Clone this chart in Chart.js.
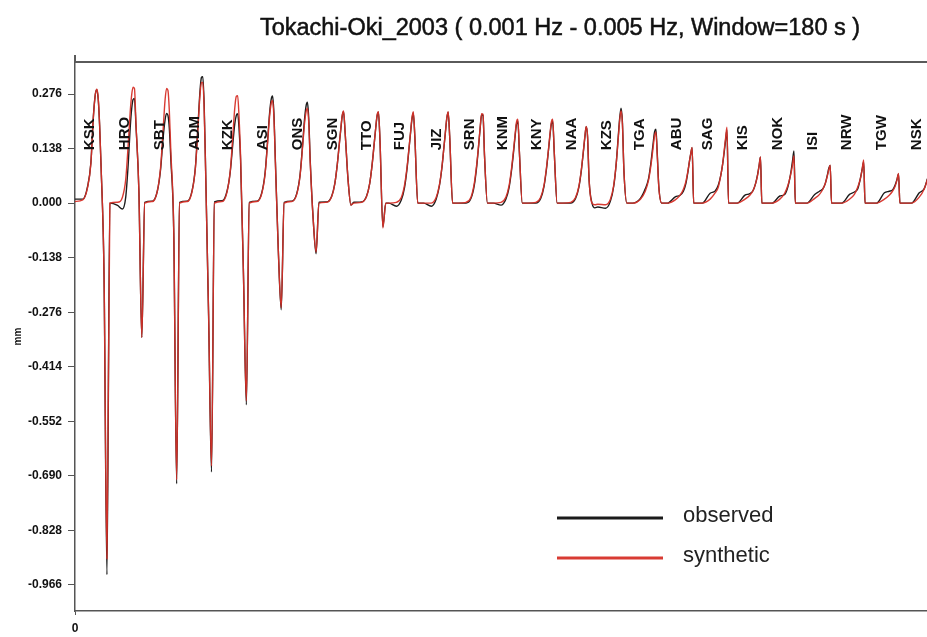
<!DOCTYPE html>
<html>
<head>
<meta charset="utf-8">
<script src="https://cdn.jsdelivr.net/npm/chart.js@4.4.1/dist/chart.umd.min.js"></script>
<style>
  html, body { margin: 0; padding: 0; background: #fff; }
  #wrap { width: 927px; height: 637px; position: relative; }
</style>
</head>
<body>
<div id="wrap"><canvas id="mainChart"></canvas></div>
<script>
// station names, in the order they are concatenated along the time axis
const stationNames = ["KSK", "HRO", "SBT", "ADM", "KZK", "ASI", "ONS", "SGN", "TTO", "FUJ", "JIZ", "SRN", "KNM",
    "KNY", "NAA", "KZS", "TGA", "ABU", "SAG", "KIS", "NOK", "ISI", "NRW", "TGW", "NSK"];

// where each station name sits on the time axis (s)
const labelTimes = [77, 258, 439, 620, 790, 971, 1152, 1333, 1508, 1679, 1870, 2040, 2211,
    2387, 2567, 2748, 2919, 3110, 3270, 3451, 3632, 3813, 3988, 4169, 4350];

// each trace is a 180 s window; sample times inside a window (s)
const windowLength = 180;
const segTimes = [0, 40, 65, 82, 95, 105, 113, 120, 127, 135, 150, 165];

// displacement (mm) at segTimes, one row per station
const syntheticValues = [
    [0.004, 0.008, 0.040, 0.100, 0.218, 0.275, 0.288, 0.265, 0.200, 0.090, -0.180, -0.900],
    [0.000, 0.002, 0.015, 0.060, 0.150, 0.230, 0.275, 0.293, 0.290, 0.200, 0.030, -0.340],
    [0.000, 0.004, 0.030, 0.090, 0.185, 0.260, 0.290, 0.285, 0.235, 0.130, -0.070, -0.700],
    [0.000, 0.004, 0.030, 0.090, 0.190, 0.270, 0.305, 0.305, 0.240, 0.070, -0.280, -0.665],
    [0.000, 0.004, 0.028, 0.082, 0.170, 0.240, 0.270, 0.272, 0.220, 0.120, -0.180, -0.500],
    [0.000, 0.004, 0.025, 0.075, 0.155, 0.220, 0.252, 0.260, 0.220, 0.100, -0.120, -0.265],
    [0.000, 0.004, 0.022, 0.068, 0.140, 0.200, 0.230, 0.240, 0.205, 0.100, -0.040, -0.124],
    [0.000, 0.002, 0.016, 0.050, 0.100, 0.150, 0.190, 0.222, 0.233, 0.180, 0.060, -0.005],
    [0.000, 0.002, 0.016, 0.050, 0.100, 0.150, 0.190, 0.222, 0.231, 0.160, -0.063, 0.000],
    [0.000, 0.002, 0.014, 0.046, 0.092, 0.140, 0.180, 0.215, 0.231, 0.170, 0.000, 0.000],
    [0.000, 0.000, 0.014, 0.046, 0.092, 0.140, 0.180, 0.215, 0.231, 0.170, 0.000, 0.000],
    [0.000, 0.002, 0.015, 0.050, 0.100, 0.150, 0.195, 0.226, 0.225, 0.120, 0.000, 0.000],
    [0.000, 0.002, 0.015, 0.045, 0.090, 0.135, 0.175, 0.205, 0.212, 0.130, 0.000, 0.000],
    [0.000, 0.002, 0.015, 0.045, 0.090, 0.135, 0.175, 0.205, 0.212, 0.130, 0.000, 0.000],
    [0.000, 0.002, 0.014, 0.042, 0.085, 0.130, 0.168, 0.194, 0.170, 0.060, 0.000, -0.004],
    [-0.003, -0.004, 0.010, 0.045, 0.100, 0.160, 0.210, 0.234, 0.200, 0.080, 0.000, 0.000],
    [0.000, 0.010, 0.030, 0.058, 0.098, 0.138, 0.170, 0.180, 0.120, 0.040, 0.000, 0.000],
    [0.000, 0.008, 0.020, 0.035, 0.055, 0.080, 0.105, 0.125, 0.141, 0.000, 0.000, 0.000],
    [0.000, 0.010, 0.025, 0.040, 0.070, 0.100, 0.135, 0.165, 0.192, 0.000, 0.000, 0.000],
    [0.000, 0.010, 0.020, 0.032, 0.050, 0.070, 0.095, 0.117, 0.000, 0.000, 0.000, 0.000],
    [0.000, 0.010, 0.025, 0.045, 0.070, 0.095, 0.120, 0.000, 0.000, 0.000, 0.000, 0.000],
    [0.000, 0.012, 0.022, 0.035, 0.050, 0.068, 0.085, 0.096, 0.000, 0.000, 0.000, 0.000],
    [0.000, 0.010, 0.022, 0.040, 0.060, 0.085, 0.109, 0.000, 0.000, 0.000, 0.000, 0.000],
    [0.000, 0.010, 0.020, 0.030, 0.042, 0.058, 0.075, 0.000, 0.000, 0.000, 0.000, 0.000],
    [0.000, 0.015, 0.035, 0.060, 0.090, 0.115, 0.135, 0.150, 0.000, 0.000, 0.000, 0.000]
];
const observedValues = [
    [0.010, 0.010, 0.042, 0.102, 0.220, 0.275, 0.287, 0.262, 0.198, 0.088, -0.185, -0.940],
    [0.000, -0.006, -0.015, 0.015, 0.100, 0.190, 0.240, 0.262, 0.265, 0.195, 0.030, -0.340],
    [0.002, 0.005, 0.030, 0.085, 0.165, 0.210, 0.227, 0.222, 0.190, 0.110, -0.075, -0.710],
    [0.002, 0.005, 0.032, 0.092, 0.195, 0.280, 0.318, 0.320, 0.250, 0.075, -0.285, -0.680],
    [0.003, 0.006, 0.030, 0.080, 0.150, 0.200, 0.222, 0.226, 0.190, 0.110, -0.180, -0.510],
    [0.002, 0.005, 0.027, 0.078, 0.160, 0.228, 0.262, 0.271, 0.230, 0.105, -0.120, -0.270],
    [0.002, 0.005, 0.024, 0.070, 0.145, 0.210, 0.245, 0.255, 0.215, 0.105, -0.040, -0.128],
    [0.002, 0.003, 0.017, 0.050, 0.100, 0.150, 0.188, 0.220, 0.231, 0.178, 0.060, -0.005],
    [0.002, 0.003, 0.017, 0.050, 0.100, 0.150, 0.190, 0.220, 0.230, 0.158, -0.060, 0.000],
    [0.000, -0.008, 0.008, 0.040, 0.088, 0.138, 0.178, 0.212, 0.228, 0.168, 0.000, 0.000],
    [0.000, -0.008, 0.010, 0.044, 0.090, 0.140, 0.180, 0.214, 0.230, 0.168, 0.000, 0.000],
    [0.000, 0.000, 0.012, 0.045, 0.095, 0.148, 0.193, 0.224, 0.222, 0.118, 0.000, 0.000],
    [0.000, -0.005, 0.010, 0.040, 0.085, 0.130, 0.170, 0.200, 0.208, 0.128, 0.000, 0.000],
    [0.000, 0.000, 0.012, 0.042, 0.087, 0.133, 0.172, 0.200, 0.208, 0.128, 0.000, 0.000],
    [0.000, 0.000, 0.012, 0.040, 0.083, 0.128, 0.166, 0.193, 0.168, 0.058, 0.000, -0.012],
    [-0.010, -0.013, 0.005, 0.042, 0.100, 0.165, 0.215, 0.240, 0.205, 0.080, 0.000, 0.000],
    [0.000, 0.012, 0.036, 0.062, 0.105, 0.148, 0.180, 0.187, 0.125, 0.042, 0.000, 0.000],
    [0.000, 0.016, 0.020, 0.030, 0.050, 0.078, 0.105, 0.125, 0.140, 0.000, 0.000, 0.000],
    [0.000, 0.025, 0.030, 0.045, 0.070, 0.100, 0.130, 0.160, 0.185, 0.000, 0.000, 0.000],
    [0.000, 0.020, 0.024, 0.032, 0.050, 0.072, 0.095, 0.116, 0.000, 0.000, 0.000, 0.000],
    [0.000, 0.018, 0.022, 0.042, 0.072, 0.105, 0.132, 0.000, 0.000, 0.000, 0.000, 0.000],
    [0.000, 0.022, 0.030, 0.036, 0.050, 0.070, 0.088, 0.095, 0.000, 0.000, 0.000, 0.000],
    [0.000, 0.022, 0.028, 0.036, 0.060, 0.085, 0.104, 0.000, 0.000, 0.000, 0.000, 0.000],
    [0.000, 0.026, 0.030, 0.033, 0.045, 0.060, 0.074, 0.000, 0.000, 0.000, 0.000, 0.000],
    [0.000, 0.026, 0.036, 0.062, 0.090, 0.115, 0.135, 0.150, 0.000, 0.000, 0.000, 0.000]
];

// axis ticks
const yTickValues = [0.276, 0.138, 0.000, -0.138, -0.276, -0.414, -0.552, -0.690, -0.828, -0.966];
const yTickLabels = ["0.276", "0.138", "0.000", "-0.138", "-0.276", "-0.414", "-0.552", "-0.690", "-0.828", "-0.966"];
const xTickValues = [0];
const xTickLabels = ["0"];

const titleText = "Tokachi-Oki_2003 ( 0.001 Hz - 0.005 Hz, Window=180 s )";

function toPoints(rows) {
    let pts = [];
    rows.forEach(function (row, i) {
        row.forEach(function (v, j) {
            pts.push({ x: i * windowLength + segTimes[j], y: v });
        });
    });
    return pts;
}

const FONT = "'Liberation Sans', Arial, sans-serif";

// title, station names, frame and legend
const decorPlugin = {
    id: "decor",
    afterDraw(chart) {
        const ctx = chart.ctx;
        const area = chart.chartArea;
        const xs = chart.scales.x, ys = chart.scales.y;
        ctx.save();

        // top frame line, left axis runs a little above it
        ctx.strokeStyle = "#5a5a5a";
        ctx.lineWidth = 2;
        ctx.beginPath();
        ctx.moveTo(area.left, area.top);
        ctx.lineTo(area.right, area.top);
        ctx.moveTo(area.left, area.top - 7);
        ctx.lineTo(area.left, area.top);
        ctx.stroke();

        // title
        ctx.fillStyle = "#111";
        ctx.strokeStyle = "#111";
        ctx.lineWidth = 0.5;
        ctx.font = "23.5px " + FONT;
        ctx.textAlign = "center";
        ctx.textBaseline = "alphabetic";
        ctx.fillText(titleText, 560, 35);
        ctx.strokeText(titleText, 560, 35);

        // station names, rotated
        ctx.font = "bold 15px " + FONT;
        ctx.textAlign = "left";
        ctx.textBaseline = "middle";
        const yBase = ys.getPixelForValue(0.134);
        stationNames.forEach(function (name, i) {
            const px = xs.getPixelForValue(labelTimes[i]);
            if (px > area.right) return;
            ctx.save();
            ctx.translate(px, yBase);
            ctx.rotate(-Math.PI / 2);
            ctx.fillText(name, 0, 0);
            ctx.restore();
        });

        // legend
        const ds = chart.data.datasets;
        const legendOrder = [1, 0];
        ctx.font = "22px " + FONT;
        ctx.textBaseline = "middle";
        legendOrder.forEach(function (k, n) {
            const ly = 518 + n * 40;
            ctx.strokeStyle = ds[k].borderColor;
            ctx.lineWidth = 3;
            ctx.beginPath();
            ctx.moveTo(557, ly);
            ctx.lineTo(663, ly);
            ctx.stroke();
            ctx.fillStyle = "#222";
            ctx.fillText(ds[k].label, 683, ly - 2);
        });
        ctx.restore();
    }
};

document.addEventListener("DOMContentLoaded", function () {
    let ctx = document.getElementById("mainChart").getContext("2d");
    let mainChart = new Chart(ctx, {
        type: "line",
        data: {
            datasets: [{
                label: "synthetic",
                data: toPoints(syntheticValues),
                borderColor: "rgba(214, 48, 40, 0.95)",
                borderWidth: 1.4,
                pointRadius: 0,
                cubicInterpolationMode: "monotone",
                fill: false
            }, {
                label: "observed",
                data: toPoints(observedValues),
                borderColor: "#1b1b1b",
                borderWidth: 1.4,
                pointRadius: 0,
                cubicInterpolationMode: "monotone",
                fill: false
            }]
        },
        options: {
            responsive: true,
            maintainAspectRatio: false,
            animation: false,
            layout: { padding: { top: 62, right: 0, left: 0, bottom: 0 } },
            plugins: {
                legend: { display: false },
                title: { display: false },
                tooltip: { enabled: false }
            },
            scales: {
                x: {
                    type: "linear",
                    min: 0,
                    max: 4400,
                    afterFit: function (scale) { scale.height = 26; },
                    afterBuildTicks: function (scale) {
                        scale.ticks = xTickValues.map(function (v) { return { value: v }; });
                    },
                    grid: { drawOnChartArea: false, drawTicks: true, tickLength: 4, tickColor: "#555" },
                    border: { display: true, color: "#555", width: 1.5 },
                    ticks: {
                        padding: 6,
                        color: "#111",
                        font: { family: FONT, size: 12, weight: "bold" },
                        callback: function (v, i) { return xTickLabels[i]; }
                    }
                },
                y: {
                    min: -1.032,
                    max: 0.357,
                    afterFit: function (scale) { scale.width = 75; },
                    afterBuildTicks: function (scale) {
                        scale.ticks = yTickValues.map(function (v) { return { value: v }; });
                    },
                    grid: { drawOnChartArea: false, drawTicks: true, tickLength: 7, tickColor: "#555" },
                    border: { display: true, color: "#555", width: 1.5 },
                    title: {
                        display: true,
                        text: "mm",
                        color: "#111",
                        font: { family: FONT, size: 10, weight: "bold" },
                        padding: { top: 12, bottom: 0 }
                    },
                    ticks: {
                        padding: 6,
                        color: "#111",
                        font: { family: FONT, size: 12, weight: "bold" },
                        callback: function (v, i) { return yTickLabels[i]; }
                    }
                }
            }
        },
        plugins: [decorPlugin]
    });
});
</script>
</body>
</html>
